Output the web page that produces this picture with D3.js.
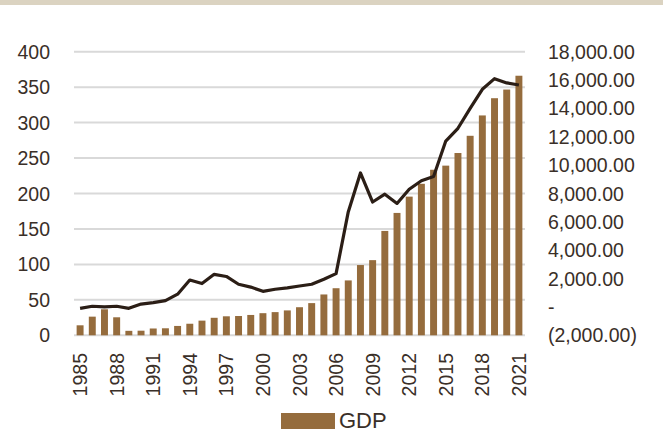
<!DOCTYPE html>
<html>
<head>
<meta charset="utf-8">
<script src="https://cdn.jsdelivr.net/npm/d3@7"></script>
<style>
  body { margin: 0; background: #fff; }
  svg text { font-family: "Liberation Sans", Arial, sans-serif; fill: #3a2f28; }
</style>
</head>
<body>
<div id="chart"></div>
<script>
var years = d3.range(1985, 2022);
var gdp = [
    14.1, 26.3, 36.7, 25.4, 6.3, 6.5, 9.6, 9.9, 13.2, 16.3,
    20.7, 24.7, 26.8, 27.2, 28.7, 31.2, 32.7, 35.1, 39.6, 45.4,
    57.6, 66.4, 77.4, 99.1, 106.0, 147.2, 172.6, 195.6, 213.7, 233.5,
    239.3, 257.1, 281.4, 310.1, 334.4, 346.6, 366.1
];
var lineVals = [
    38, 41, 40, 41, 38, 44, 46, 49, 58, 78,
    73, 86, 83, 72, 68, 62, 65, 67, 69.5, 72,
    79, 87, 174, 229, 188, 199, 186, 206, 218, 224,
    274, 292, 320, 347, 362, 356, 353
];
var leftTicks = [0, 50, 100, 150, 200, 250, 300, 350, 400];
var rightTicks = [-2000, 0, 2000, 4000, 6000, 8000, 10000, 12000, 14000, 16000, 18000];
var xLabels = [1985, 1988, 1991, 1994, 1997, 2000, 2003, 2006, 2009, 2012, 2015, 2018, 2021];

var width = 663, height = 432;
var plotLeft = 74, plotRight = 525, plotTop = 51.7, plotBottom = 335.3;

var svg = d3.select("#chart").append("svg")
    .attr("width", width)
    .attr("height", height);

// top band
svg.append("rect")
    .attr("x", 0).attr("y", 0)
    .attr("width", width).attr("height", 5)
    .attr("fill", "#dbd3c1");

var x = d3.scaleBand()
    .domain(years)
    .range([plotLeft, plotRight])
    .paddingInner(0.43)
    .paddingOuter(0.215);

var yL = d3.scaleLinear().domain([0, 400]).range([plotBottom, plotTop]);
var yR = d3.scaleLinear().domain([-2000, 18000]).range([plotBottom, plotTop]);

// grid
svg.append("g")
    .selectAll("line")
    .data(leftTicks)
    .enter().append("line")
    .attr("x1", plotLeft).attr("x2", plotRight)
    .attr("y1", d => yL(d)).attr("y2", d => yL(d))
    .attr("stroke", "#d9d9d9")
    .attr("stroke-width", 2);

// left axis labels
svg.append("g")
    .selectAll("text")
    .data(leftTicks)
    .enter().append("text")
    .attr("x", 50)
    .attr("y", d => yL(d))
    .attr("dy", "0.36em")
    .attr("text-anchor", "end")
    .style("font-size", "19.5px")
    .text(d => d);

// right axis labels
var fmt = d3.format(",.2f");
svg.append("g")
    .selectAll("text")
    .data(rightTicks)
    .enter().append("text")
    .attr("x", 548)
    .attr("y", d => yR(d))
    .attr("dy", "0.36em")
    .style("font-size", "19.5px")
    .text(d => d === 0 ? "-" : d < 0 ? "(" + fmt(-d) + ")" : fmt(d));

// bars
svg.append("g")
    .selectAll("rect")
    .data(years)
    .enter().append("rect")
    .attr("x", d => x(d))
    .attr("width", x.bandwidth())
    .attr("y", (d, i) => yL(gdp[i]))
    .attr("height", (d, i) => plotBottom - yL(gdp[i]))
    .attr("fill", "#956c3d");

// line
var line = d3.line()
    .x((d, i) => x(years[i]) + x.bandwidth() / 2)
    .y(d => yL(d));

svg.append("path")
    .datum(lineVals)
    .attr("d", line)
    .attr("fill", "none")
    .attr("stroke", "#2b1e16")
    .attr("stroke-width", 3.2)
    .attr("stroke-linejoin", "round");

// x labels
svg.append("g")
    .selectAll("text")
    .data(xLabels)
    .enter().append("text")
    .attr("transform", d => "translate(" + (x(d) + x.bandwidth() / 2) + ",353) rotate(-90)")
    .attr("dy", "0.36em")
    .attr("text-anchor", "end")
    .style("font-size", "19.5px")
    .text(d => d);

// legend
svg.append("rect")
    .attr("x", 281).attr("y", 413)
    .attr("width", 54).attr("height", 16)
    .attr("fill", "#956c3d");
svg.append("text")
    .attr("x", 339).attr("y", 428)
    .style("font-size", "22px")
    .text("GDP");
</script>
</body>
</html>
